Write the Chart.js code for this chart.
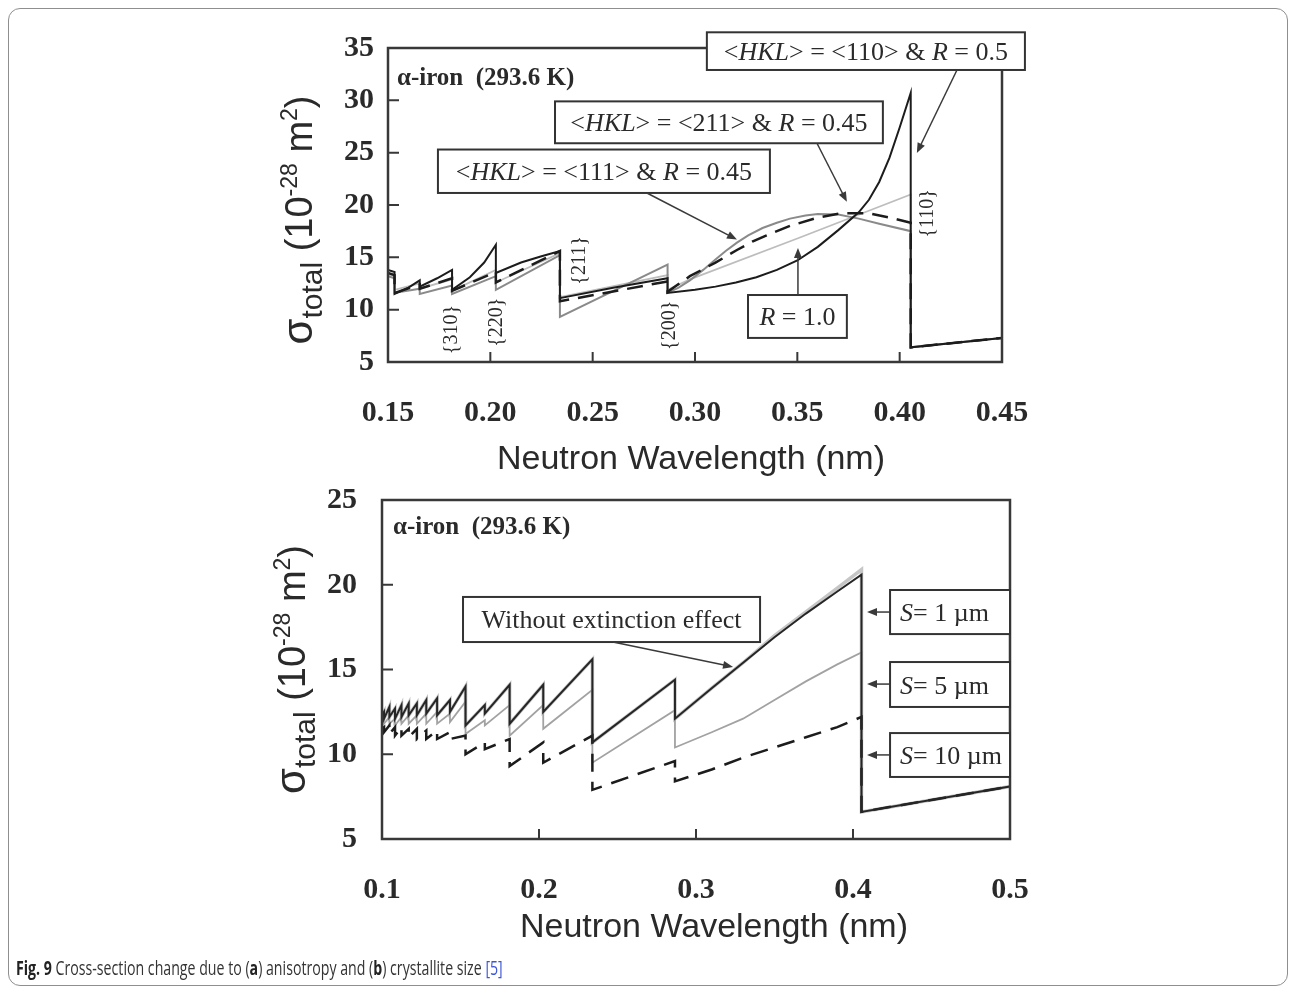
<!DOCTYPE html>
<html>
<head>
<meta charset="utf-8">
<title>Fig. 9 – cross-section change</title>
<script src="https://cdn.jsdelivr.net/npm/chart.js@4.4.1/dist/chart.umd.min.js"></script>
<style>
  html, body { margin: 0; padding: 0; background: #fff; }
  body { width: 1296px; height: 990px; position: relative; overflow: hidden; }
  .frame {
    position: absolute; left: 8px; top: 8px; width: 1280px; height: 978px;
    border: 1px solid #8f8f8f; border-radius: 12px; box-sizing: border-box;
  }
  canvas { position: absolute; left: 0; }
  #chartA { top: 0; }
  #chartB { top: 440px; }
  .caption {
    position: absolute; left: 16px; top: 954px; white-space: nowrap;
    font-family: "Liberation Sans Narrow", "Open Sans", sans-serif; font-size: 20px;
    color: #333; transform-origin: left top;
  }
  .caption b { color: #222; }
  .caption .ref { color: #3b55d8; }
</style>
</head>
<body>
<div class="frame"></div>
<canvas id="chartA" width="1296" height="490"></canvas>
<canvas id="chartB" width="1296" height="530"></canvas>
<div class="caption" id="caption"><b>Fig. 9</b> Cross-section change due to (<b>a</b>) anisotropy and (<b>b</b>) crystallite size <span class="ref">[5]</span></div>

<script>
// ---------- (a) anisotropy, alpha-iron 293.6 K ----------
const xTicksA = [0.15, 0.20, 0.25, 0.30, 0.35, 0.40, 0.45];
const yTicksA = [5, 10, 15, 20, 25, 30, 35];

// <HKL> = <110>, R = 0.5
const lam110 = [0.1500, 0.1532, 0.1532, 0.1600, 0.1655, 0.1655, 0.1740, 0.1813, 0.1813, 0.1900, 0.1970, 0.2027, 0.2027, 0.2150, 0.2250, 0.2340, 0.2340, 0.2600, 0.2866, 0.2866, 0.3000, 0.3100, 0.3200, 0.3300, 0.3400, 0.3500, 0.3600, 0.3700, 0.3800, 0.3850, 0.3900, 0.3950, 0.4000, 0.4054, 0.4054, 0.4500];
const sig110 = [13.8, 13.6, 11.5, 12.1, 12.8, 12.2, 13.0, 13.8, 11.9, 13.1, 14.5, 16.2, 13.5, 14.5, 15.1, 15.6, 11.1, 12.1, 13.0, 11.6, 11.9, 12.2, 12.6, 13.1, 13.8, 14.7, 16.0, 17.6, 19.3, 20.5, 22.2, 24.5, 27.4, 30.7, 6.4, 7.3];

// <HKL> = <211>, R = 0.45
const lam211 = [0.1500, 0.1532, 0.1532, 0.1655, 0.1655, 0.1813, 0.1813, 0.2027, 0.2027, 0.2340, 0.2340, 0.2866, 0.2866, 0.2975, 0.3100, 0.3205, 0.3280, 0.3350, 0.3464, 0.3600, 0.3710, 0.3850, 0.3950, 0.4054, 0.4054, 0.4500];
const sig211 = [13.5, 13.3, 11.6, 12.4, 12.0, 13.0, 11.8, 13.6, 12.6, 15.6, 10.8, 12.7, 11.7, 13.2, 14.5, 15.7, 16.5, 17.1, 18.0, 18.8, 19.2, 19.2, 18.8, 18.3, 6.4, 7.3];

// <HKL> = <111>, R = 0.45
const lam111 = [0.1500, 0.1532, 0.1532, 0.1655, 0.1655, 0.1813, 0.1813, 0.2027, 0.2027, 0.2340, 0.2340, 0.2866, 0.2866, 0.2920, 0.2975, 0.3040, 0.3100, 0.3150, 0.3205, 0.3260, 0.3330, 0.3400, 0.3464, 0.3540, 0.3600, 0.3700, 0.3800, 0.3900, 0.4054, 0.4054, 0.4500];
const sig111 = [13.2, 13.0, 11.6, 12.0, 11.5, 12.3, 11.5, 13.2, 11.9, 15.2, 9.3, 14.3, 11.6, 12.1, 12.8, 13.8, 14.8, 15.6, 16.4, 17.1, 17.8, 18.3, 18.7, 19.0, 19.15, 19.1, 18.7, 18.2, 17.5, 6.4, 7.3];

// random texture, R = 1.0
const lamR1 = [0.1500, 0.1532, 0.1532, 0.1655, 0.1655, 0.1813, 0.1813, 0.2027, 0.2027, 0.2340, 0.2340, 0.2866, 0.2866, 0.2975, 0.3500, 0.4054, 0.4054, 0.4500];
const sigR1 = [13.4, 13.2, 11.9, 12.5, 12.0, 12.9, 11.8, 13.8, 12.6, 15.4, 11.2, 13.3, 11.9, 12.9, 16.8, 21.0, 6.4, 7.3];

// ---------- (b) crystallite size ----------
const xTicksB = [0.1, 0.2, 0.3, 0.4, 0.5];
const yTicksB = [5, 10, 15, 20, 25];

// wavelengths shared by all four curves (Bragg edges appear twice)
const lamB = [0.1000, 0.1013, 0.1013, 0.1047, 0.1047, 0.1083, 0.1083, 0.1124, 0.1124, 0.1170, 0.1170, 0.1222, 0.1222, 0.1282, 0.1282, 0.1351, 0.1351, 0.1433, 0.1433, 0.1532, 0.1532, 0.1655, 0.1655, 0.1813, 0.1813, 0.2027, 0.2027, 0.2340, 0.2340, 0.2866, 0.2866, 0.3100, 0.3300, 0.3500, 0.3700, 0.3900, 0.4054, 0.4054, 0.5000];
const sigNoExt = [12.3, 12.5, 12.1, 12.8, 12.2, 12.7, 12.1, 12.9, 12.2, 13.0, 12.3, 13.0, 12.3, 13.2, 12.4, 13.3, 12.3, 13.2, 12.5, 14.0, 11.7, 12.9, 12.4, 14.1, 11.8, 14.1, 12.5, 15.6, 10.7, 14.4, 12.1, 13.9, 15.4, 16.9, 18.3, 19.6, 20.6, 6.6, 8.1];
const sigS1 = [12.3, 12.5, 12.1, 12.8, 12.2, 12.7, 12.1, 12.9, 12.2, 13.0, 12.3, 13.0, 12.3, 13.2, 12.4, 13.3, 12.3, 13.2, 12.5, 14.0, 11.7, 12.9, 12.4, 14.1, 11.8, 14.1, 12.5, 15.6, 10.7, 14.4, 12.1, 13.9, 15.4, 17.0, 18.4, 19.8, 20.9, 6.6, 8.1];
const sigS5 = [11.9, 12.1, 11.8, 12.2, 11.8, 12.1, 11.7, 12.2, 11.8, 12.3, 11.8, 12.3, 11.8, 12.4, 11.8, 12.5, 11.8, 12.4, 11.9, 13.1, 11.2, 12.0, 11.7, 12.9, 11.1, 12.9, 11.5, 13.8, 9.5, 12.6, 10.4, 11.3, 12.1, 13.2, 14.3, 15.3, 16.0, 6.6, 8.1];
const sigS10 = [11.5, 11.6, 11.3, 11.7, 11.2, 11.6, 11.1, 11.6, 11.1, 11.5, 11.0, 11.5, 10.9, 11.4, 10.9, 11.4, 10.9, 11.3, 10.9, 11.1, 10.0, 10.7, 10.3, 10.9, 9.3, 10.7, 9.5, 11.1, 7.9, 9.6, 8.4, 9.1, 9.8, 10.4, 11.0, 11.6, 12.2, 6.6, 8.1];

// ---------- helpers ----------
const SERIF = '"Liberation Serif", "DejaVu Serif", serif';
const SANS = '"Liberation Sans", Arial, sans-serif';
const serif = (size, style) => `${style || ''} ${size}px ${SERIF}`;
const pts = (xs, ys) => xs.map((x, i) => ({ x, y: ys[i] }));

function line(data, color, width, dash) {
    return {
        data, borderColor: color, borderWidth: width, borderDash: dash || [],
        pointRadius: 0, tension: 0, fill: false
    };
}

const hkl = (dir, r) => [
    { t: '<', font: serif(26) },
    { t: 'HKL', font: serif(26, 'italic') },
    { t: '> = <' + dir + '> & ', font: serif(26) },
    { t: 'R', font: serif(26, 'italic') },
    { t: ' = ' + r, font: serif(26) }
];
const sizeRuns = s => [
    { t: 'S', font: serif(26, 'italic') },
    { t: '= ' + s + ' \u00b5m', font: serif(26) }
];

function drawRuns(ctx, runs, x, y, align) {
    let w = 0;
    runs.forEach(r => { ctx.font = r.font; w += ctx.measureText(r.t).width; });
    let cx = align === 'center' ? x - w / 2 : x;
    runs.forEach(r => {
        ctx.font = r.font;
        ctx.fillText(r.t, cx, y + (r.dy || 0));
        cx += ctx.measureText(r.t).width;
    });
}

function arrow(ctx, x1, y1, x2, y2) {
    const a = Math.atan2(y2 - y1, x2 - x1), L = 10, H = 4;
    ctx.beginPath();
    ctx.moveTo(x1, y1);
    ctx.lineTo(x2 - Math.cos(a) * L * 0.8, y2 - Math.sin(a) * L * 0.8);
    ctx.stroke();
    ctx.beginPath();
    ctx.moveTo(x2, y2);
    ctx.lineTo(x2 - L * Math.cos(a) + H * Math.sin(a), y2 - L * Math.sin(a) - H * Math.cos(a));
    ctx.lineTo(x2 - L * Math.cos(a) - H * Math.sin(a), y2 - L * Math.sin(a) + H * Math.cos(a));
    ctx.closePath();
    ctx.fill();
}

const yTitleRuns = [
    { t: '\u03c3', font: `42px ${SANS}` },
    { t: 'total', font: `30px ${SANS}`, dy: 10 },
    { t: ' (10', font: `38px ${SANS}` },
    { t: '-28', font: `23px ${SANS}`, dy: -15 },
    { t: ' m', font: `38px ${SANS}` },
    { t: '2', font: `23px ${SANS}`, dy: -15 },
    { t: ')', font: `38px ${SANS}` }
];

// annotations in data units (lambda, sigma); title offsets in pixels
const decorations = {
    chartA: {
        yTitle: { dx: -88, dy: 15 },
        xTitle: { dx: -4, dy: 98 },
        tag: { x: 0.1544, y: 32.1 },
        boxes: [
            { x0: 0.3058, x1: 0.4612, y0: 36.5, y1: 32.9, runs: hkl('110', '0.5') },
            { x0: 0.2316, x1: 0.3918, y0: 29.9, y1: 25.9, runs: hkl('211', '0.45') },
            { x0: 0.1744, x1: 0.3366, y0: 25.3, y1: 21.15, runs: hkl('111', '0.45') },
            { x0: 0.3259, x1: 0.3742, y0: 11.4, y1: 7.3, runs: [{ t: 'R', font: serif(26, 'italic') }, { t: ' = 1.0', font: serif(26) }] }
        ],
        arrows: [
            [0.4280, 32.9, 0.4084, 24.97],
            [0.3596, 25.9, 0.3742, 20.3],
            [0.2765, 21.15, 0.3205, 16.7],
            [0.3503, 11.4, 0.3503, 15.9]
        ],
        edges: [
            { t: '{310}', x: 0.1813, y: 8.1 },
            { t: '{220}', x: 0.2032, y: 8.8 },
            { t: '{211}', x: 0.2438, y: 14.7 },
            { t: '{200}', x: 0.2878, y: 8.5 },
            { t: '{110}', x: 0.4138, y: 19.2 }
        ]
    },
    chartB: {
        yTitle: { dx: -89, dy: 0 },
        xTitle: { dx: 18, dy: 89 },
        tag: { x: 0.107, y: 23.4 },
        boxes: [
            { x0: 0.1516, x1: 0.3408, y0: 19.28, y1: 16.62, runs: [{ t: 'Without extinction effect', font: serif(26) }] },
            { x0: 0.4236, x1: 0.5, y0: 19.69, y1: 17.09, runs: sizeRuns('1'), left: 0.430 },
            { x0: 0.4236, x1: 0.5, y0: 15.44, y1: 12.79, runs: sizeRuns('5'), left: 0.430 },
            { x0: 0.4236, x1: 0.5, y0: 11.25, y1: 8.66, runs: sizeRuns('10'), left: 0.430 }
        ],
        arrows: [
            [0.2471, 16.62, 0.3236, 15.15],
            [0.4236, 18.39, 0.4089, 18.39],
            [0.4236, 14.14, 0.4089, 14.14],
            [0.4236, 9.96, 0.4089, 9.96]
        ],
        edges: []
    }
};

// frame, inward ticks, titles and call-outs
const decorPlugin = {
    id: 'decor',
    afterDraw(chart) {
        const d = decorations[chart.canvas.id];
        const { ctx, chartArea: a, scales: { x, y } } = chart;
        const X = v => x.getPixelForValue(v), Y = v => y.getPixelForValue(v);
        ctx.save();

        // plot box
        ctx.strokeStyle = '#383838';
        ctx.lineWidth = 2.5;
        ctx.strokeRect(a.left, a.top, a.right - a.left, a.bottom - a.top);

        // ticks pointing into the plot
        ctx.lineWidth = 2;
        ctx.beginPath();
        x.ticks.forEach(t => {
            if (Math.abs(t.value - x.min) < 1e-9 || Math.abs(t.value - x.max) < 1e-9) return;
            const px = X(t.value);
            ctx.moveTo(px, a.bottom); ctx.lineTo(px, a.bottom - 10);
        });
        y.ticks.forEach(t => {
            if (Math.abs(t.value - y.min) < 1e-9 || Math.abs(t.value - y.max) < 1e-9) return;
            const py = Y(t.value);
            ctx.moveTo(a.left, py); ctx.lineTo(a.left + 11, py);
        });
        ctx.stroke();

        ctx.fillStyle = '#2a2a2a';
        ctx.textBaseline = 'alphabetic';

        // axis titles
        ctx.save();
        ctx.translate(a.left + d.yTitle.dx, (a.top + a.bottom) / 2 + d.yTitle.dy);
        ctx.rotate(-Math.PI / 2);
        drawRuns(ctx, yTitleRuns, 0, 12, 'center');
        ctx.restore();
        ctx.font = `34px ${SANS}`;
        ctx.textAlign = 'center';
        ctx.textBaseline = 'middle';
        ctx.fillText('Neutron Wavelength (nm)', (a.left + a.right) / 2 + d.xTitle.dx, a.bottom + d.xTitle.dy);

        // material tag
        ctx.textAlign = 'left';
        ctx.font = `bold 25px ${SERIF}`;
        ctx.fillText('\u03b1-iron  (293.6 K)', X(d.tag.x), Y(d.tag.y));

        // Bragg-edge labels, written bottom to top
        ctx.font = serif(20);
        ctx.textAlign = 'center';
        d.edges.forEach(e => {
            ctx.save();
            ctx.translate(X(e.x), Y(e.y));
            ctx.rotate(-Math.PI / 2);
            ctx.fillText(e.t, 0, 0);
            ctx.restore();
        });

        // call-out boxes
        ctx.textAlign = 'left';
        ctx.textBaseline = 'alphabetic';
        d.boxes.forEach(b => {
            const bx = X(b.x0), by = Y(b.y0), bw = X(b.x1) - bx, bh = Y(b.y1) - by;
            ctx.fillStyle = '#fff';
            ctx.fillRect(bx, by, bw, bh);
            ctx.strokeStyle = '#333';
            ctx.lineWidth = 2;
            ctx.strokeRect(bx, by, bw, bh);
            ctx.save();
            ctx.beginPath();
            ctx.rect(bx, by, bw, bh);
            ctx.clip();
            ctx.fillStyle = '#2a2a2a';
            const base = by + bh / 2 + 9;
            if (b.left !== undefined) drawRuns(ctx, b.runs, X(b.left), base, 'left');
            else drawRuns(ctx, b.runs, bx + bw / 2, base, 'center');
            ctx.restore();
        });

        // leader arrows
        ctx.strokeStyle = '#3a3a3a';
        ctx.fillStyle = '#3a3a3a';
        ctx.lineWidth = 1.5;
        d.arrows.forEach(p => arrow(ctx, X(p[0]), Y(p[1]), X(p[2]), Y(p[3])));

        ctx.restore();
    }
};

function axes(xTicks, yTicks, xDigits, yWidth, xHeight, yPad, xmin, xmax, ymin, ymax) {
    const tickFont = { family: SERIF, size: 30, weight: 'bold' };
    return {
        x: {
            type: 'linear', min: xmin, max: xmax,
            afterBuildTicks: s => { s.ticks = xTicks.map(v => ({ value: v })); },
            afterFit: s => { s.height = xHeight; },
            grid: { display: false, drawTicks: false },
            border: { display: false },
            ticks: { padding: 33, font: tickFont, color: '#2a2a2a', autoSkip: false, maxRotation: 0,
                     callback: v => Number(v).toFixed(xDigits) }
        },
        y: {
            min: ymin, max: ymax,
            afterBuildTicks: s => { s.ticks = yTicks.map(v => ({ value: v })); },
            afterFit: s => { s.width = yWidth; },
            grid: { display: false, drawTicks: false },
            border: { display: false },
            ticks: { padding: yPad, font: tickFont, color: '#2a2a2a', callback: v => String(v) }
        }
    };
}

const common = {
    responsive: false,
    animation: false,
    events: [],
    plugins: { legend: { display: false }, tooltip: { enabled: false } }
};

new Chart(document.getElementById('chartA'), {
    type: 'line',
    data: {
        datasets: [
            line(pts(lam110, sig110), '#1c1c1c', 2),
            line(pts(lam211, sig211), '#1c1c1c', 2.5, [16, 9]),
            line(pts(lam111, sig111), '#8a8a8a', 2),
            line(pts(lamR1, sigR1), '#bdbdbd', 1.8)
        ]
    },
    options: {
        ...common,
        layout: { padding: { left: 0, right: 294, top: 48, bottom: 8 } },
        scales: axes(xTicksA, yTicksA, 2, 388, 120, 14, 0.15, 0.45, 5, 35)
    },
    plugins: [decorPlugin]
});

new Chart(document.getElementById('chartB'), {
    type: 'line',
    data: {
        datasets: [
            line(pts(lamB, sigNoExt), '#262626', 2),
            line(pts(lamB, sigS10), '#1c1c1c', 2.5, [18, 10]),
            line(pts(lamB, sigS5), '#a2a2a2', 1.8),
            line(pts(lamB, sigS1), '#c6c6c6', 3.5)
        ]
    },
    options: {
        ...common,
        layout: { padding: { left: 0, right: 286, top: 60, bottom: 19 } },
        scales: axes(xTicksB, yTicksB, 1, 382, 112, 25, 0.1, 0.5, 5, 25)
    },
    plugins: [decorPlugin]
});

// squeeze the caption to its printed width
const cap = document.getElementById('caption');
cap.style.transform = 'scaleX(' + (487 / cap.offsetWidth).toFixed(3) + ')';
</script>
</body>
</html>
